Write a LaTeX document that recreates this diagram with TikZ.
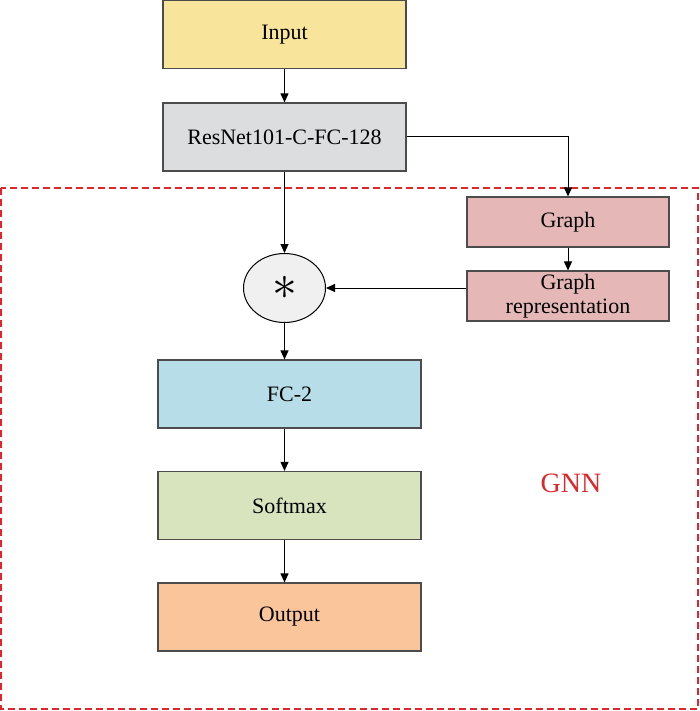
\documentclass[tikz,border=0pt]{standalone}
\usepackage{fontspec}
\setmainfont{Liberation Serif}
\usetikzlibrary{arrows.meta}
\usetikzlibrary{shapes.geometric}

\definecolor{inputc}{HTML}{F9E49B}
\definecolor{resc}{HTML}{DCDDDF}
\definecolor{graphc}{HTML}{E5B8B7}
\definecolor{fcc}{HTML}{B7DEE8}
\definecolor{softc}{HTML}{D7E4BD}
\definecolor{outc}{HTML}{FAC59B}
\definecolor{gnnred}{HTML}{E0262B}

\begin{document}
\begin{tikzpicture}[x=0.5pt, y=-0.5pt, font=\fontsize{11}{12}\selectfont,
  blk/.style={draw=black!70, line width=0.6pt, minimum width=121.5pt, minimum height=34pt, inner sep=0pt, align=center},
  wide/.style={minimum width=131.5pt, minimum height=34pt},
  small/.style={minimum width=101pt, minimum height=25pt},
  link/.style={line width=0.5pt, -{Triangle[length=4.5pt,width=4pt]}}]
\useasboundingbox (0,0) rectangle (700,711);
% GNN frame
\draw[gnnred, line width=0.7pt, dash pattern=on 3.5pt off 2pt] (1,188) rectangle (698,709);
\node[text=gnnred, font=\fontsize{14}{16}\selectfont] (gnn) at (571,483) {GNN};
% backbone
\node[blk, fill=inputc] (input) at (284.5,34.5) {Input};
\node[blk, fill=resc] (resnet) at (284.5,137) {ResNet101-C-FC-128};
% graph branch
\node[blk, small, fill=graphc] (graph) at (568,222) {Graph};
\node[blk, small, fill=graphc] (grep) at (568,296) {Graph\\representation};
\node[ellipse, draw, line width=0.5pt, fill=black!6, minimum width=41pt, minimum height=34.5pt, inner sep=0pt] (mul) at (284.5,288) {\fontsize{26}{26}\selectfont$\ast$};
% head
\node[blk, wide, fill=fcc] (fc) at (289.5,394) {FC-2};
\node[blk, wide, fill=softc] (soft) at (289.5,505.5) {Softmax};
\node[blk, wide, fill=outc] (output) at (289.5,617) {Output};
\draw[link] (input) -- (resnet);
\draw[link] (resnet) -- (mul);
\draw[link] (resnet.east) -| (graph.north);
\draw[link] (graph) -- (grep);
\draw[link] (grep.west |- mul.east) -- (mul.east);
\draw[link] (mul.south) -- (mul.south |- fc.north);
\draw[link] (fc.south -| mul.south) -- (soft.north -| mul.south);
\draw[link] (soft.south -| mul.south) -- (output.north -| mul.south);
\end{tikzpicture}
\end{document}
